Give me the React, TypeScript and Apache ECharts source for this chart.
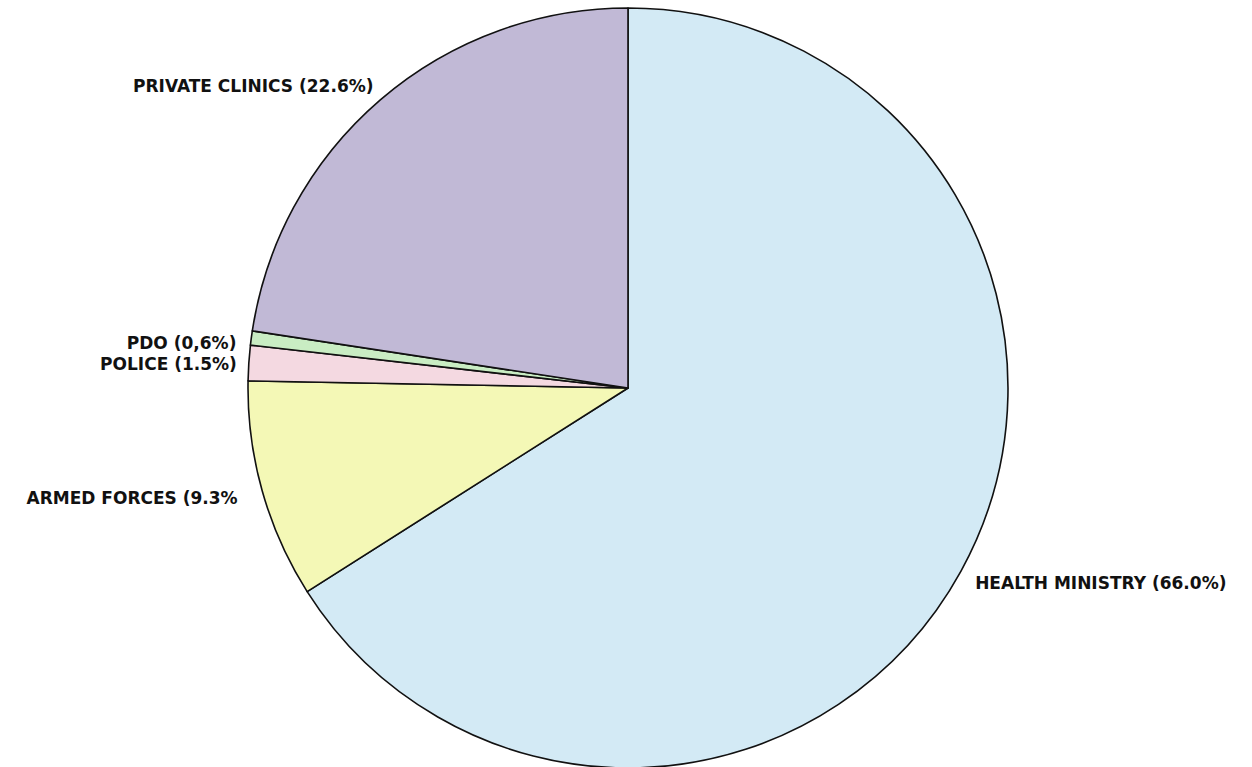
import React, { useEffect, useRef } from "react";
import * as echarts from "echarts";

// Share of health facilities by operator (%)
const categories = ["HEALTH MINISTRY", "ARMED FORCES", "POLICE", "PDO", "PRIVATE CLINICS"];
const shares = [66.0, 9.3, 1.5, 0.6, 22.6];
const labelTexts = [
  "HEALTH MINISTRY (66.0%)",
  "ARMED FORCES (9.3%",
  "POLICE (1.5%)",
  "PDO (0,6%)",
  "PRIVATE CLINICS (22.6%)",
];
const sliceColors = ["#d3eaf5", "#f4f8b6", "#f4d9e1", "#c9edc3", "#c1b9d6"];

// small nudges of each outside label from its default spot
const labelNudge: [number, number][] = [
  [-4, 5],
  [-5, 3],
  [8, 2],
  [5, 7],
  [8, -2],
];

export default function App() {
  const ref = useRef<HTMLDivElement>(null);

  useEffect(() => {
    if (!ref.current) return;
    const chart = echarts.init(ref.current, undefined, { renderer: "svg" });
    chart.setOption({
      animation: false,
      backgroundColor: "#ffffff",
      series: [
        {
          type: "pie",
          center: [628, 388],
          radius: 380,
          startAngle: 90,
          clockwise: true,
          avoidLabelOverlap: false,
          itemStyle: { borderColor: "#111111", borderWidth: 1.6 },
          label: {
            show: true,
            position: "outside",
            color: "#111111",
            fontFamily: "DejaVu Sans",
            fontWeight: "bold",
            fontSize: 17,
            lineHeight: 15,
            formatter: (p: any) => labelTexts[p.dataIndex],
          },
          labelLine: { show: false, length: 15, length2: 0 },
          labelLayout: (p: any) => {
            const n = labelNudge[p.dataIndex] || [0, 0];
            return { dx: n[0], dy: n[1] };
          },
          data: categories.map((name, i) => ({
            name,
            value: shares[i],
            itemStyle: { color: sliceColors[i] },
          })),
        },
      ],
    });
    return () => chart.dispose();
  }, []);

  return (
    <div
      ref={ref}
      style={{ position: "fixed", left: 0, top: 0, width: 1252, height: 767 }}
    />
  );
}
